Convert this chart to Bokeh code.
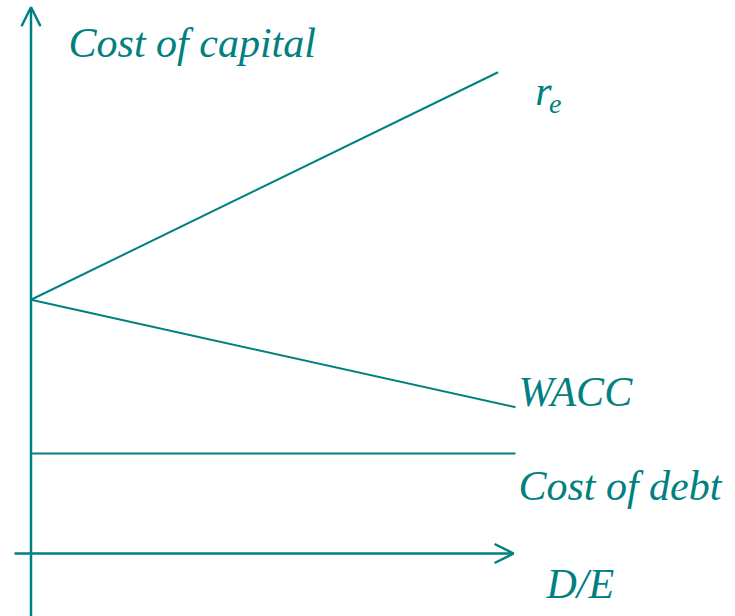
from bokeh.plotting import figure
from bokeh.models import Range1d, Arrow, OpenHead, Label
from bokeh.embed import file_html
from bokeh.resources import INLINE

# Data (D/E on x, cost of capital in % on y)
de = [0.0, 1.0]
re_de = [0.0, 0.964]
re_vals = [10.15, 19.25]
wacc_vals = [10.15, 5.85]
debt_vals = [4.0, 4.0]

# Axis extents
x_axis_from, x_axis_to = -0.034, 0.996
y_axis_from, y_axis_to = -2.6, 21.85

TEAL = "#008080"
FONT = "'Liberation Serif', 'Times New Roman', Times, serif"

p = figure(width=735, height=616, output_backend="svg", toolbar_location=None,
           x_range=Range1d(-0.06295, 1.45408), y_range=Range1d(-2.52, 22.12),
           min_border=0, outline_line_color=None)
p.axis.visible = False
p.grid.visible = False
p.background_fill_color = "white"
p.border_fill_color = "white"

p.line(re_de, re_vals, line_color=TEAL, line_width=2)
p.line(de, wacc_vals, line_color=TEAL, line_width=2)
p.line(de, debt_vals, line_color=TEAL, line_width=2)

p.add_layout(Arrow(end=OpenHead(size=19, line_color=TEAL, line_width=2.5),
                   x_start=x_axis_from, y_start=0, x_end=x_axis_to, y_end=0,
                   line_color=TEAL, line_width=2.5))
p.add_layout(Arrow(end=OpenHead(size=19, line_color=TEAL, line_width=2.5),
                   x_start=0, y_start=y_axis_from, x_end=0, y_end=y_axis_to,
                   line_color=TEAL, line_width=2.5))

def lab(text, x, y, size="42px"):
    p.add_layout(Label(x=x, y=y, text=text, text_font=FONT, text_font_style="italic",
                       text_font_size=size, text_color=TEAL, text_baseline="alphabetic"))

lab("Cost of capital", 0.0775, 20.44)
lab("r", 1.041, 18.52)
lab("e", 1.069, 18.00, "28px")
lab("WACC", 1.006, 6.48)
lab("Cost of debt", 1.006, 2.72)
lab("D/E", 1.064, -1.20)

open("out.html", "w").write(file_html(p, INLINE))
